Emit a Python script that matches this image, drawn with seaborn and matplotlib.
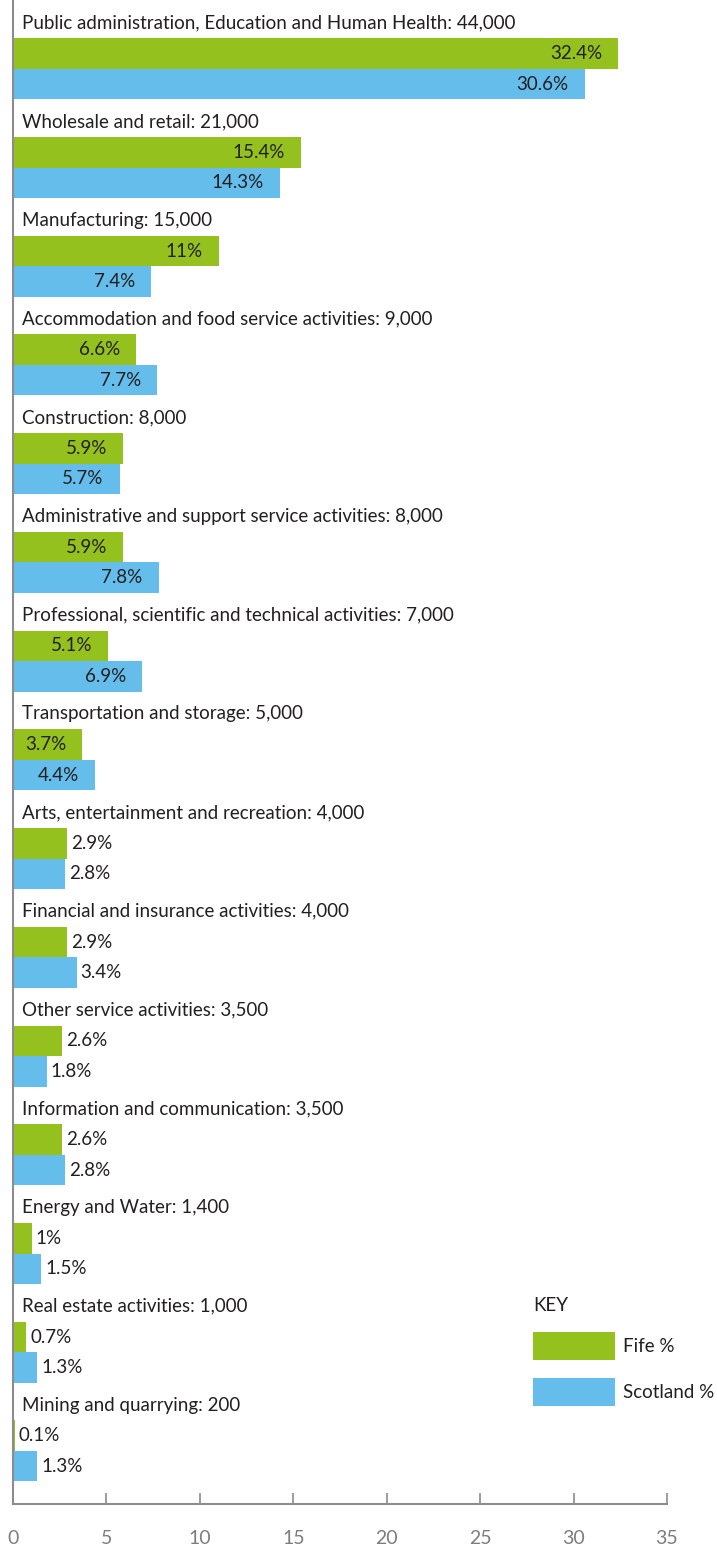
import pandas as pd
import seaborn as sns
import matplotlib.pyplot as plt
from matplotlib.patches import Patch

# employment by sector, Fife vs Scotland (%)
sectors = ['Public administration, Education and Human Health', 'Wholesale and retail',
           'Manufacturing', 'Accommodation and food service activities', 'Construction',
           'Administrative and support service activities',
           'Professional, scientific and technical activities', 'Transportation and storage',
           'Arts, entertainment and recreation', 'Financial and insurance activities',
           'Other service activities', 'Information and communication', 'Energy and Water',
           'Real estate activities', 'Mining and quarrying']
jobs = [44000, 21000, 15000, 9000, 8000, 8000, 7000, 5000, 4000, 4000, 3500, 3500, 1400, 1000, 200]
fife = [32.4, 15.4, 11, 6.6, 5.9, 5.9, 5.1, 3.7, 2.9, 2.9, 2.6, 2.6, 1, 0.7, 0.1]
scotland = [30.6, 14.3, 7.4, 7.7, 5.7, 7.8, 6.9, 4.4, 2.8, 3.4, 1.8, 2.8, 1.5, 1.3, 1.3]
areas = ['Fife %', 'Scotland %']
x_ticks = [0, 5, 10, 15, 20, 25, 30, 35]

GREEN = '#95c11f'
BLUE = '#65bdeb'
TXT = '#231f20'
GREY = '#8c8c8c'

df = pd.DataFrame({'sector': sectors * 2,
                   'area': [areas[0]] * len(sectors) + [areas[1]] * len(sectors),
                   'value': fife + scotland})

sns.set_theme(style='white')
plt.rcParams['font.family'] = ['Lato', 'DejaVu Sans']
FS = 13.5
fpx = FS * 100 / 72  # font size in pixels

fig = plt.figure(figsize=(7.17, 15.46), dpi=100)
ax = fig.add_axes([13 / 717, 42 / 1546, 654 / 717, 1504 / 1546])

sns.barplot(data=df, x='value', y='sector', hue='area', orient='h',
            palette={areas[0]: GREEN, areas[1]: BLUE}, saturation=1,
            width=0.618, gap=0, linewidth=0, errorbar=None, legend=False, ax=ax)

ax.set_xlim(0, 35)
ax.set_ylim(14.537, -0.697)
ax.set_xticks(x_ticks)
ax.set_yticks([])
ax.set_xlabel('')
ax.set_ylabel('')

for s in ['top', 'right']:
    ax.spines[s].set_visible(False)
for s in ['left', 'bottom']:
    ax.spines[s].set_color(GREY)
    ax.spines[s].set_linewidth(1.5)
ax.tick_params(axis='x', direction='in', length=8, width=1.2, color=GREY,
               labelcolor='#7d7d7d', pad=19, labelsize=14, bottom=True)

# sector headings above each pair of bars
for i, (s, n) in enumerate(zip(sectors, jobs)):
    ax.text(0.5, i - 0.41, f'{s}: {n:,}', ha='left', va='baseline',
            fontsize=FS, color=TXT)

# value labels: inside the bar when long enough, otherwise just after it
off = 0.309 / 2
for i in range(len(sectors)):
    for v, dy in [(fife[i], -off), (scotland[i], off)]:
        if v >= 3.5:
            ax.text(v - 0.86, i + dy, f'{v:g}%', ha='right', va='center',
                    fontsize=FS, color=TXT)
        else:
            ax.text(v + 0.22, i + dy, f'{v:g}%', ha='left', va='center',
                    fontsize=FS, color=TXT)

# legend swatches ~82x28 px, 47 px apart
hh = (28 / fpx - 0.245) / 0.65
handles = [Patch(facecolor=GREEN, edgecolor='none', label=areas[0]),
           Patch(facecolor=BLUE, edgecolor='none', label=areas[1])]
leg = fig.legend(handles=handles, title='KEY', loc='upper left',
                 bbox_to_anchor=(533 / 717, 1 - 1297 / 1546), frameon=False,
                 fontsize=FS, title_fontsize=FS, alignment='left', borderpad=0,
                 borderaxespad=0, handlelength=82 / fpx, handleheight=hh,
                 labelspacing=18 / fpx, handletextpad=8 / fpx)
for t in leg.get_texts():
    t.set_color(TXT)
leg.get_title().set_color(TXT)

fig.savefig('out.png', dpi=100)
